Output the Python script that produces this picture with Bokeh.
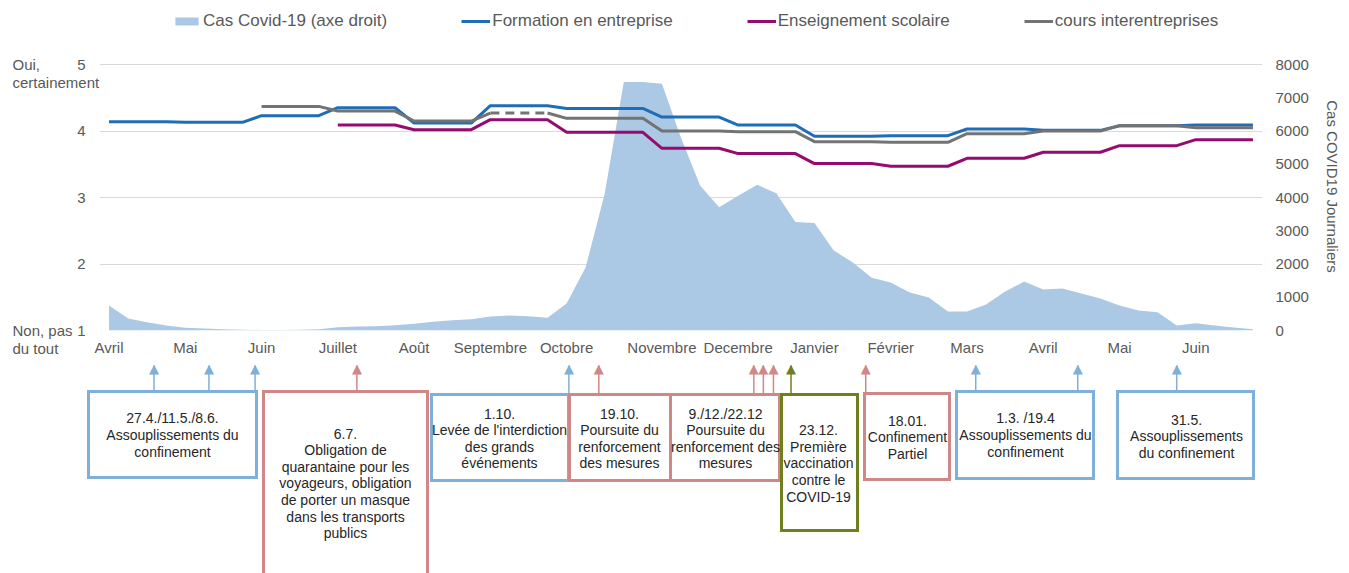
import math
from bokeh.plotting import figure
from bokeh.models import Range1d, LinearAxis, FixedTicker, Legend, LegendItem
from bokeh.core.properties import value
from bokeh.embed import file_html
from bokeh.resources import INLINE

nan = float("nan")

# ---------------- data (weekly points) ----------------
weeks = list(range(61))

cases = [750, 360, 250, 150, 80, 60, 40, 25, 15, 15,
         20, 40, 100, 120, 130, 160, 200, 260, 310, 340,
         420, 450, 430, 380, 810, 1900, 4120, 7470, 7470, 7420,
         5800, 4360, 3710, 4050, 4380, 4130, 3260, 3230, 2410, 2050,
         1590, 1440, 1140, 990, 570, 570, 780, 1170, 1470, 1230,
         1260, 1110, 960, 750, 600, 550, 150, 220, 150, 90, 40]

formation = [4.14, 4.14, 4.14, 4.14, 4.13, 4.13, 4.13, 4.13,
             4.23, 4.23, 4.23, 4.23,
             4.35, 4.35, 4.35, 4.35,
             4.12, 4.12, 4.12, 4.12,
             4.38, 4.38, 4.38, 4.38,
             4.34, 4.34, 4.34, 4.34, 4.34,
             4.21, 4.21, 4.21, 4.21,
             4.09, 4.09, 4.09, 4.09,
             3.92, 3.92, 3.92, 3.92,
             3.93, 3.93, 3.93, 3.93,
             4.03, 4.03, 4.03, 4.03,
             4.01, 4.01, 4.01, 4.01,
             4.08, 4.08, 4.08, 4.08,
             4.09, 4.09, 4.09, 4.09]

scolaire = [nan] * 12 + [
            4.09, 4.09, 4.09, 4.09,
            4.02, 4.02, 4.02, 4.02,
            4.17, 4.17, 4.17, 4.17,
            3.98, 3.98, 3.98, 3.98, 3.98,
            3.74, 3.74, 3.74, 3.74,
            3.66, 3.66, 3.66, 3.66,
            3.51, 3.51, 3.51, 3.51,
            3.47, 3.47, 3.47, 3.47,
            3.59, 3.59, 3.59, 3.59,
            3.68, 3.68, 3.68, 3.68,
            3.78, 3.78, 3.78, 3.78,
            3.87, 3.87, 3.87, 3.87]

interentreprises = [nan] * 8 + [
            4.37, 4.37, 4.37, 4.37,
            4.30, 4.30, 4.30, 4.30,
            4.15, 4.15, 4.15, 4.15,
            4.27, 4.27, 4.27, 4.27,
            4.19, 4.19, 4.19, 4.19, 4.19,
            4.00, 4.00, 4.00, 4.00,
            3.99, 3.99, 3.99, 3.99,
            3.84, 3.84, 3.84, 3.84,
            3.83, 3.83, 3.83, 3.83,
            3.96, 3.96, 3.96, 3.96,
            4.00, 4.00, 4.00, 4.00,
            4.08, 4.08, 4.08, 4.08,
            4.05, 4.05, 4.05, 4.05]
# September value of "cours interentreprises" is drawn dashed between these weeks
dash_from, dash_to = 20, 23

month_ticks = [0, 4, 8, 12, 16, 20, 24, 29, 33, 37, 41, 45, 49, 53, 57]
month_labels = ["Avril", "Mai", "Juin", "Juillet", "Août", "Septembre", "Octobre",
                "Novembre", "Decembre", "Janvier", "Février", "Mars", "Avril", "Mai", "Juin"]

left_ticks = [1, 2, 3, 4, 5]
right_ticks = [0, 1000, 2000, 3000, 4000, 5000, 6000, 7000, 8000]

# ---------------- annotations ----------------
ann_text = [
    "27.4./11.5./8.6.\nAssouplissements du\nconfinement",
    "6.7.\nObligation de\nquarantaine pour les\nvoyageurs, obligation\nde porter un masque\ndans les transports\npublics",
    "1.10.\nLevée de l'interdiction\ndes grands\névénements",
    "19.10.\nPoursuite du\nrenforcement\ndes mesures",
    "9./12./22.12\nPoursuite du\nrenforcement des\nmesures",
    "23.12.\nPremière\nvaccination\ncontre le\nCOVID-19",
    "18.01.\nConfinement\nPartiel",
    "1.3. /19.4\nAssouplissements du\nconfinement",
    "31.5.\nAssouplissements\ndu confinement",
]
ann_kind = ["relax", "tight", "relax", "tight", "tight", "vacc", "tight", "relax", "relax"]
# event positions on the week axis and the box each belongs to
event_week = [2.36, 5.24, 7.66, 13.0, 24.12, 25.69, 33.82, 34.32, 34.85, 35.77, 39.69, 45.46, 50.81, 56.0]
event_box = [0, 0, 0, 1, 2, 3, 4, 4, 4, 5, 6, 7, 7, 8]

# box layout (page pixels)
box_left = [88, 263, 431, 569, 670, 781, 864, 956, 1117]
box_right = [256, 427, 568, 670, 779, 857, 949, 1093, 1253]
box_top = [391, 391, 394, 394, 394, 394, 393, 391, 391]
box_bottom = [477, 620, 480, 480, 480, 530, 479, 478, 478]
text_cx = [172, 345, 499, 619, 725, 818, 907, 1025, 1186]
text_cy = [434.5, 483, 438, 438, 438, 463, 437, 434.5, 436]

kind_color = {"relax": "#7eb0da", "tight": "#d18787", "vacc": "#6f7f1e"}

C_AREA = "#abc9e4"
C_BLUE = "#1f6db6"
C_PURPLE = "#960b70"
C_GRAY = "#737373"
C_TXT = "#595959"
FONT = "Liberation Sans"

# ---------------- geometry (page pixels) ----------------
W, H = 1349, 573
FR_L, FR_R = 99, 1262          # plot frame, horizontally
Y5_PX, Y1_PX = 64, 330          # pixel rows of the 5 and 1 grid lines
# frame reaches the top of the page so the legend sits inside it
y_top = 1 + 4 * (Y1_PX - 0) / (Y1_PX - Y5_PX)
cases_top = 8000 * (Y1_PX - 0) / (Y1_PX - Y5_PX)

p = figure(width=W, height=H, output_backend="svg", toolbar_location=None,
           x_range=Range1d(-0.5, 60.5), y_range=Range1d(1, y_top),
           min_border_left=FR_L, min_border_right=W - FR_R, min_border_top=0,
           min_border_bottom=H - Y1_PX)
p.outline_line_color = None
p.background_fill_color = "white"
p.border_fill_color = "white"
p.extra_y_ranges = {"cases": Range1d(0, cases_top), "px": Range1d(Y1_PX, 0)}
p.extra_x_ranges = {"px": Range1d(FR_L, FR_R)}

# grid
p.xgrid.visible = False
p.ygrid.ticker = FixedTicker(ticks=left_ticks)
p.ygrid.grid_line_color = "#d9d9d9"
p.ygrid.grid_line_width = 1

def style_axis(ax, standoff):
    ax.axis_line_color = None
    ax.major_tick_line_color = None
    ax.minor_tick_line_color = None
    ax.major_tick_out = 0
    ax.major_tick_in = 0
    ax.minor_tick_out = 0
    ax.minor_tick_in = 0
    ax.major_label_standoff = standoff
    ax.major_label_text_font = FONT
    ax.major_label_text_font_size = "15px"
    ax.major_label_text_color = C_TXT

ya = p.left[0]
ya.ticker = FixedTicker(ticks=left_ticks)
style_axis(ya, 14)

xa = p.below[0]
xa.ticker = FixedTicker(ticks=month_ticks)
xa.major_label_overrides = {t: l for t, l in zip(month_ticks, month_labels)}
style_axis(xa, 8)

ra = LinearAxis(y_range_name="cases", ticker=FixedTicker(ticks=right_ticks))
style_axis(ra, 13)
p.add_layout(ra, "right")

# series
r_area = p.varea(x=weeks, y1=[0] * len(weeks), y2=cases, y_range_name="cases",
                 fill_color=C_AREA, fill_alpha=1.0)
r_blue = p.line(weeks, formation, line_color=C_BLUE, line_width=3)
r_purple = p.line(weeks, scolaire, line_color=C_PURPLE, line_width=3)
gray_solid = [v if not (dash_from < i < dash_to) else nan for i, v in enumerate(interentreprises)]
r_gray = p.line(weeks, gray_solid, line_color=C_GRAY, line_width=3)
p.line([weeks[dash_from], weeks[dash_to]], [interentreprises[dash_from], interentreprises[dash_to]],
       line_color=C_GRAY, line_width=3, line_dash="9 6")

legend = Legend(items=[
    LegendItem(label="Cas Covid-19 (axe droit)", renderers=[r_area]),
    LegendItem(label="Formation en entreprise", renderers=[r_blue]),
    LegendItem(label="Enseignement scolaire", renderers=[r_purple]),
    LegendItem(label="cours interentreprises", renderers=[r_gray]),
], location=(172 - FR_L, Y1_PX - 31), orientation="horizontal")
legend.border_line_color = None
legend.background_fill_alpha = 0
legend.padding = 0
legend.margin = 0
legend.spacing = 74
legend.glyph_width = 29
legend.glyph_height = 10
legend.label_height = 20
legend.label_standoff = 2
legend.label_text_font = FONT
legend.label_text_font_size = "17px"
legend.label_text_color = C_TXT
p.add_layout(legend)

# right axis title
p.text(x=[1332], y=[186], text=["Cas COVID19 Journaliers"], angle=-math.pi / 2,
       x_range_name="px", y_range_name="px", level="overlay",
       text_font=value(FONT), text_font_size="15px", text_color=C_TXT,
       text_align="center", text_baseline="middle")

# scale end labels on the left
p.text(x=[12, 12], y=[73, 339], text=["Oui,\ncertainement", "Non, pas\ndu tout"],
       x_range_name="px", y_range_name="px", level="overlay",
       text_font=value(FONT), text_font_size="15px", text_color=C_TXT,
       text_align="left", text_baseline="middle", text_line_height=1.02)

# annotation boxes
box_cols = [kind_color[k] for k in ann_kind]
p.quad(left=box_left, right=box_right, top=box_top, bottom=box_bottom,
       x_range_name="px", y_range_name="px", level="overlay",
       fill_color=None, line_color=box_cols, line_width=3, line_join="miter")
p.text(x=text_cx, y=text_cy, text=ann_text, x_range_name="px", y_range_name="px", level="overlay",
       text_font=value(FONT), text_font_size="14px", text_color="#262626",
       text_align="center", text_baseline="middle", text_line_height=1.04)

# event arrows (week axis -> annotation box)
ev_cols = [kind_color[ann_kind[b]] for b in event_box]
HEAD_BASE = 368
p.segment(x0=event_week, x1=event_week, y0=[box_top[b] - 1 for b in event_box],
          y1=[HEAD_BASE - 3] * len(event_week), y_range_name="px", level="overlay",
          line_color=ev_cols, line_width=1.5)
p.text(x=event_week, y=[HEAD_BASE] * len(event_week), text=["▲"] * len(event_week),
       y_range_name="px", level="overlay",
       text_font=value("DejaVu Sans"), text_font_size="13px", text_color=ev_cols,
       text_align="center", text_baseline="alphabetic")

open("out.html", "w").write(file_html(p, INLINE))
